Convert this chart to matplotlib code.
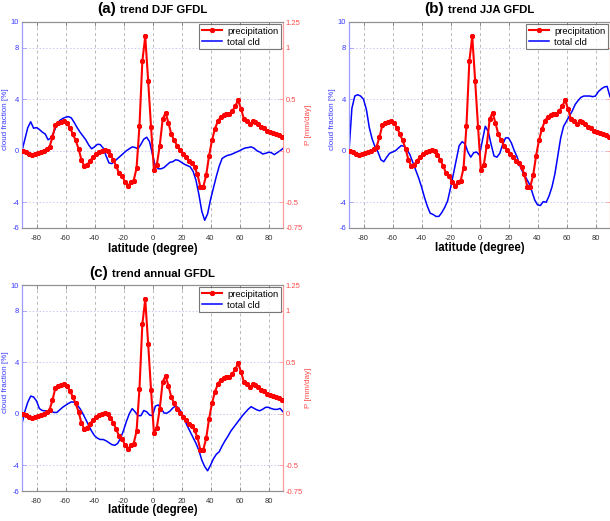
import numpy as np
import matplotlib
matplotlib.use("Agg")
import matplotlib.pyplot as plt
from matplotlib.ticker import FuncFormatter

plt.rcParams['font.family'] = ['Liberation Sans', 'DejaVu Sans']
plt.rcParams['axes.unicode_minus'] = False

# ---------------- data ----------------
lat_p = np.arange(-89, 90, 2)          # precipitation grid (2 deg)
lat_c = np.arange(-90, 91, 2)          # cloud grid

precip = [
    -0.005, -0.015, -0.03, -0.04, -0.035, -0.025, -0.01, 0.0, 0.015, 0.04,
    0.13, 0.25, 0.27, 0.28, 0.285, 0.265, 0.225, 0.165, 0.1, 0.02,
    -0.09, -0.15, -0.135, -0.095, -0.06, -0.035, -0.015, 0.0, 0.01, 0.0,
    -0.04, -0.09, -0.15, -0.22, -0.245, -0.3, -0.345, -0.305, -0.29, -0.17,
    0.24, 0.87, 1.11, 0.68, 0.23, -0.19, -0.135, 0.05, 0.305, 0.37,
    0.27, 0.16, 0.1, 0.05, 0.006, -0.03, -0.065, -0.1, -0.115, -0.16,
    -0.23, -0.35, -0.35, -0.24, -0.05, 0.1, 0.21, 0.285, 0.33, 0.345,
    0.355, 0.36, 0.385, 0.43, 0.49, 0.41, 0.31, 0.285, 0.255, 0.285,
    0.28, 0.255, 0.235, 0.22, 0.19, 0.18, 0.17, 0.165, 0.155, 0.13,
]

cld_djf = [
    0.0, 0.9, 1.8, 2.25, 1.75, 1.8, 1.65, 1.45, 1.3, 0.85,
    1.0, 1.45, 2.05, 2.35, 2.5, 2.6, 2.65, 2.55, 2.2, 1.8,
    1.45, 1.15, 0.85, 0.45, 0.15, 0.3, 0.5, 0.48, 0.2, -0.4,
    -0.95, -1.0, -0.8, -0.6, -0.4, -0.2, 0.0, 0.15, 0.3, 0.25,
    0.15, 0.5, 0.9, 1.05, 0.7, -0.3, -1.2, -1.4, -1.4, -1.3,
    -1.1, -0.9, -0.85, -0.7, -0.75, -0.9, -1.05, -1.15, -1.25, -1.6,
    -2.3, -3.4, -4.7, -5.4, -4.9, -3.8, -2.9, -2.0, -1.2, -0.6,
    -0.45, -0.35, -0.3, -0.2, -0.1, 0.0, 0.12, 0.22, 0.25, 0.3,
    0.2, 0.0, -0.1, -0.25, -0.2, -0.12, -0.15, -0.3, -0.15, 0.0,
    0.18,
]

cld_jja = [
    0.0, 3.3, 4.25, 4.35, 4.25, 4.0, 3.2, 1.8, 0.9, 0.3,
    -0.1, -0.7, -0.85, -0.5, -0.2, -0.1, 0.0, 0.2, 0.4, 0.35,
    0.1, -0.3, -0.9, -1.5, -2.1, -2.8, -3.6, -4.3, -4.85, -4.95,
    -5.1, -5.1, -4.8, -4.4, -3.9, -2.9, -1.8, -0.7, 0.4, 0.7,
    0.55, -0.1, -0.5, -0.15, -0.1, -0.35, 0.8, 1.9, 1.5, 0.5,
    -0.4, -0.5, -0.2, 0.5, 1.0, 1.0, 0.6, 0.0, -0.5, -1.2,
    -1.7, -2.1, -2.5, -3.1, -3.8, -4.2, -4.25, -3.95, -4.0, -3.5,
    -2.8, -1.8, -0.4, 1.0, 1.9, 2.3, 2.7, 3.1, 3.6, 3.9,
    4.15, 4.25, 4.25, 4.25, 4.2, 4.25, 4.6, 4.8, 4.95, 5.0,
    4.2,
]

cld_ann = [
    -0.75, 0.2, 0.9, 1.37, 1.3, 1.0, 0.4, 0.25, 0.23, 0.23,
    0.2, 0.1, 0.1, 0.3, 0.5, 0.65, 0.8, 0.92, 0.9, 0.7,
    0.4, 0.0, -0.45, -0.9, -1.35, -1.7, -1.9, -2.0, -2.0, -2.1,
    -2.25, -2.4, -2.45, -2.3, -1.9, -1.3, -0.6, 0.0, 0.4, 0.15,
    -0.15, -0.15, 0.25, 0.15, -0.1, -0.15, 0.6, 0.68, 0.4, 0.05,
    0.05, 0.2, 0.45, 0.6, 0.45, 0.1, -0.45, -0.95, -1.4, -1.85,
    -2.3, -2.85, -3.6, -4.1, -4.43, -4.0, -3.5, -3.15, -2.95, -2.5,
    -2.1, -1.75, -1.35, -1.05, -0.75, -0.45, -0.15, 0.1, 0.35, 0.55,
    0.42, 0.3, 0.23, 0.35, 0.5, 0.5, 0.4, 0.34, 0.34, 0.41,
    0.15,
]

xticks = [-80, -60, -40, -20, 0, 20, 40, 60, 80]
yticks_l = [-6, -4, 0, 4, 8, 10]
yticks_r = [-0.75, -0.5, 0, 0.5, 1, 1.25]

panels = [
    ("(a)", "trend DJF GFDL", cld_djf),
    ("(b)", "trend JJA GFDL", cld_jja),
    ("(c)", "trend annual GFDL", cld_ann),
]

# ---------------- figure ----------------
W, H = 610, 521
fig = plt.figure(figsize=(W / 100, H / 100), dpi=100)

# (left px, top px, title baseline px, xlabel center px, show right labels)
geo = [
    (22, 22, 13, 249, True),
    (349, 22, 13, 248, False),
    (22, 285, 277, 510, True),
]
aw, ah = 261, 206

BLUE = '#0000ff'
RED = '#ff0000'
LBLUE = '#9a9aff'
LRED = '#ff9a9a'

fmt = FuncFormatter(lambda v, p: ('%g' % v))

for (letter, ttl, cld), (lx, ty, tb, xl, showr) in zip(panels, geo):
    ax = fig.add_axes([lx / W, 1 - (ty + ah) / H, aw / W, ah / H])
    ax2 = ax.twinx()

    ax.plot(lat_c, cld, color=BLUE, lw=1.1, label='total cld', zorder=3)
    lp, = ax2.plot(lat_p, precip, color=RED, lw=1.5, marker=(8, 2, 0),
                   ms=3.6, mew=0.9, label='precipitation', zorder=3)

    ax.set_xlim(-90, 90)
    ax.set_ylim(-6, 10)
    ax2.set_ylim(-0.75, 1.25)
    ax.set_xticks(xticks)
    ax.set_yticks(yticks_l)
    ax2.set_yticks(yticks_r)
    ax2.yaxis.set_major_formatter(fmt)
    ax.yaxis.set_major_formatter(fmt)

    # grids
    for xv in xticks:
        ax.axvline(xv, color='#b8b8b8', lw=0.7, ls=(0, (3, 3)), zorder=1)
    for yv in [-4, 0, 4, 8]:
        ax.axhline(yv, color='#c8c8f4', lw=0.7, ls=(0, (1.5, 2)), zorder=1)

    # spines
    for a in (ax, ax2):
        a.spines['top'].set_color('#909090')
        a.spines['bottom'].set_color('#909090')
        a.spines['left'].set_color(LBLUE)
        a.spines['right'].set_color(LRED)
        for s in a.spines.values():
            s.set_linewidth(0.8)

    ax.tick_params(axis='x', direction='in', length=3, width=0.6, top=True,
                   colors='#808080', labelcolor='#333333', labelsize=5.5, pad=5)
    ax.tick_params(axis='y', direction='in', length=3, width=0.6,
                   colors=LBLUE, labelcolor='#3a3aff', labelsize=5.5, pad=2)
    ax2.tick_params(axis='y', direction='in', length=3, width=0.6,
                    colors=LRED, labelcolor='#ff4a4a', labelsize=5.5, pad=2,
                    labelright=showr)

    ax.set_ylabel('cloud fraction [%]', color='#3a3aff', fontsize=5.8)
    ax.yaxis.set_label_coords(-13 / aw, 0.53)
    if showr:
        ax2.set_ylabel('P [mm/day]', color='#ff4a4a', fontsize=5.8)
        ax2.yaxis.set_label_coords(1 + 22 / aw, 0.5)

    fig.text((lx + aw / 2) / W, 1 - xl / H, 'latitude (degree)',
             ha='center', va='center', fontsize=8.3, fontweight='bold')

    lines = [lp, ax.get_lines()[0]]
    leg = ax2.legend(lines, [l.get_label() for l in lines], loc='upper right',
                     fontsize=6.8, frameon=True, fancybox=False,
                     borderaxespad=0.2, handlelength=2.2, handletextpad=0.5,
                     borderpad=0.3, labelspacing=0.2)
    leg.get_frame().set_edgecolor('#555555')
    leg.get_frame().set_linewidth(0.8)

    # title: large "(x)" + smaller text
    t1 = fig.text(0, 1 - tb / H, letter, fontsize=11, fontweight='bold',
                  ha='left', va='baseline')
    t2 = fig.text(0, 1 - tb / H, ttl, fontsize=8.2, fontweight='bold',
                  ha='left', va='baseline')
    fig.canvas.draw()
    r = fig.canvas.get_renderer()
    w1 = t1.get_window_extent(r).width
    w2 = t2.get_window_extent(r).width
    gap = 4
    cx = lx + aw / 2
    start = cx - (w1 + gap + w2) / 2
    t1.set_x(start / W)
    t2.set_x((start + w1 + gap) / W)

fig.savefig('out.png', dpi=100)
